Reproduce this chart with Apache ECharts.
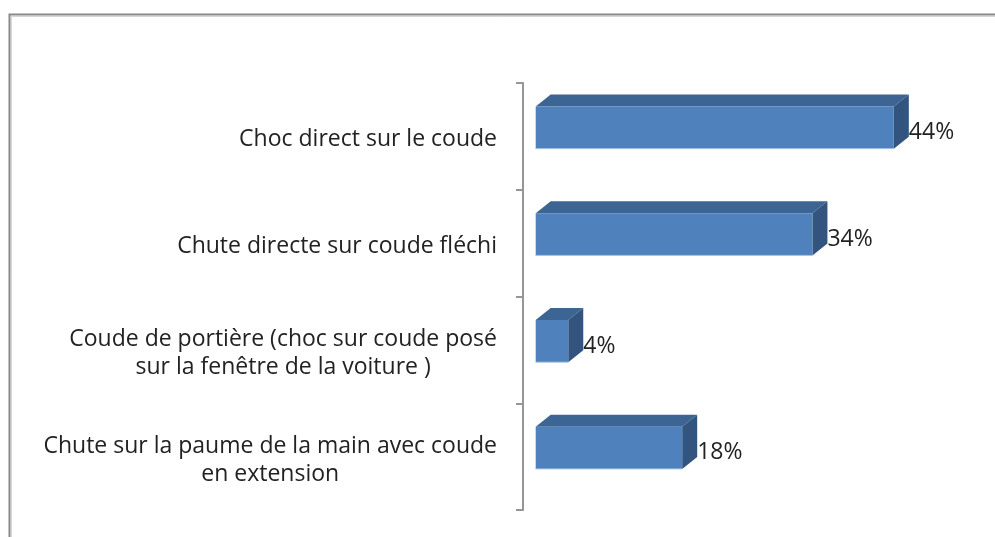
<!DOCTYPE html>
<html>
<head>
<meta charset="utf-8">
<script src="https://cdn.jsdelivr.net/npm/echarts@6/dist/echarts.min.js"></script>
<style>
  html, body { margin: 0; padding: 0; background: #fff; }
  #chart { width: 995px; height: 537px; }
</style>
</head>
<body>
<div id="chart"></div>
<script>
const categories = [
  'Choc direct sur le coude',
  'Chute directe sur coude fléchi',
  'Coude de portière (choc sur coude posé\nsur la fenêtre de la voiture )',
  'Chute sur la paume de la main avec coude\nen extension'
]
const values = [44, 34, 4, 18]

const FONT = '"Open Sans", sans-serif'
const FS = 23

const chart = echarts.init(document.getElementById('chart'))

function renderBar(params, api) {
  const idx = api.value(0)
  const val = api.value(1)
  const start = api.coord([0, idx])
  const end = api.coord([val, idx])
  const band = api.size([0, 1])[1]
  const cy = start[1]
  const top = cy - band * 0.28
  const bottom = cy + band * 0.115
  const x0 = start[0]
  const x1 = end[0]
  const dx = 15
  const dy = 12
  return {
    type: 'group',
    children: [
      {
        type: 'polygon',
        shape: { points: [[x0, top], [x0 + dx, top - dy], [x1 + dx, top - dy], [x1, top]] },
        style: { fill: '#3d6594' }
      },
      {
        type: 'polygon',
        shape: { points: [[x1, top], [x1 + dx, top - dy], [x1 + dx, bottom - dy], [x1, bottom]] },
        style: { fill: '#32547f' }
      },
      {
        type: 'rect',
        shape: { x: x0, y: top, width: x1 - x0, height: bottom - top },
        style: { fill: '#4f81bd' }
      },
      {
        type: 'line',
        shape: { x1: x0, y1: bottom, x2: x1, y2: bottom },
        style: { stroke: '#a9c3e3', lineWidth: 1 }
      },
      {
        type: 'text',
        x: x1 + dx,
        y: (top + bottom) / 2 + 5,
        style: {
          text: val + '%',
          fill: '#222',
          font: FS + 'px ' + FONT,
          align: 'left',
          verticalAlign: 'middle'
        }
      }
    ]
  }
}

const option = {
  animation: false,
  backgroundColor: '#fff',
  graphic: [
    {
      type: 'rect',
      left: 7, top: 12,
      shape: { width: 1000, height: 540 },
      style: { fill: 'none', stroke: '#888', lineWidth: 2 }
    },
    {
      type: 'rect',
      left: 9, top: 14,
      shape: { width: 1000, height: 540 },
      style: { fill: 'none', stroke: '#d6d6d6', lineWidth: 1 }
    }
  ],
  grid: {
    left: 523,
    top: 83,
    width: 468.5,
    height: 427
  },
  xAxis: {
    type: 'value',
    min: -1.56,
    max: 56,
    show: false
  },
  yAxis: {
    type: 'category',
    data: categories,
    inverse: true,
    axisLine: { show: true, onZero: false, lineStyle: { color: '#969696', width: 2 } },
    axisTick: { show: true, length: 7, lineStyle: { color: '#969696', width: 2 } },
    axisLabel: {
      margin: 26,
      color: '#222',
      fontSize: FS,
      fontFamily: FONT,
      lineHeight: 28,
      padding: [7, 0, 0, 0],
      formatter: v => v.split('\n').map(s => '{c|' + s + '}').join('\n'),
      rich: {
        c: { align: 'center', fontSize: FS, fontFamily: FONT, color: '#222', lineHeight: 28 }
      }
    },
    splitLine: { show: false }
  },
  series: [
    {
      type: 'custom',
      renderItem: renderBar,
      encode: { x: 1, y: 0 },
      data: values.map((v, i) => [i, v])
    }
  ]
}

chart.setOption(option)
</script>
</body>
</html>
